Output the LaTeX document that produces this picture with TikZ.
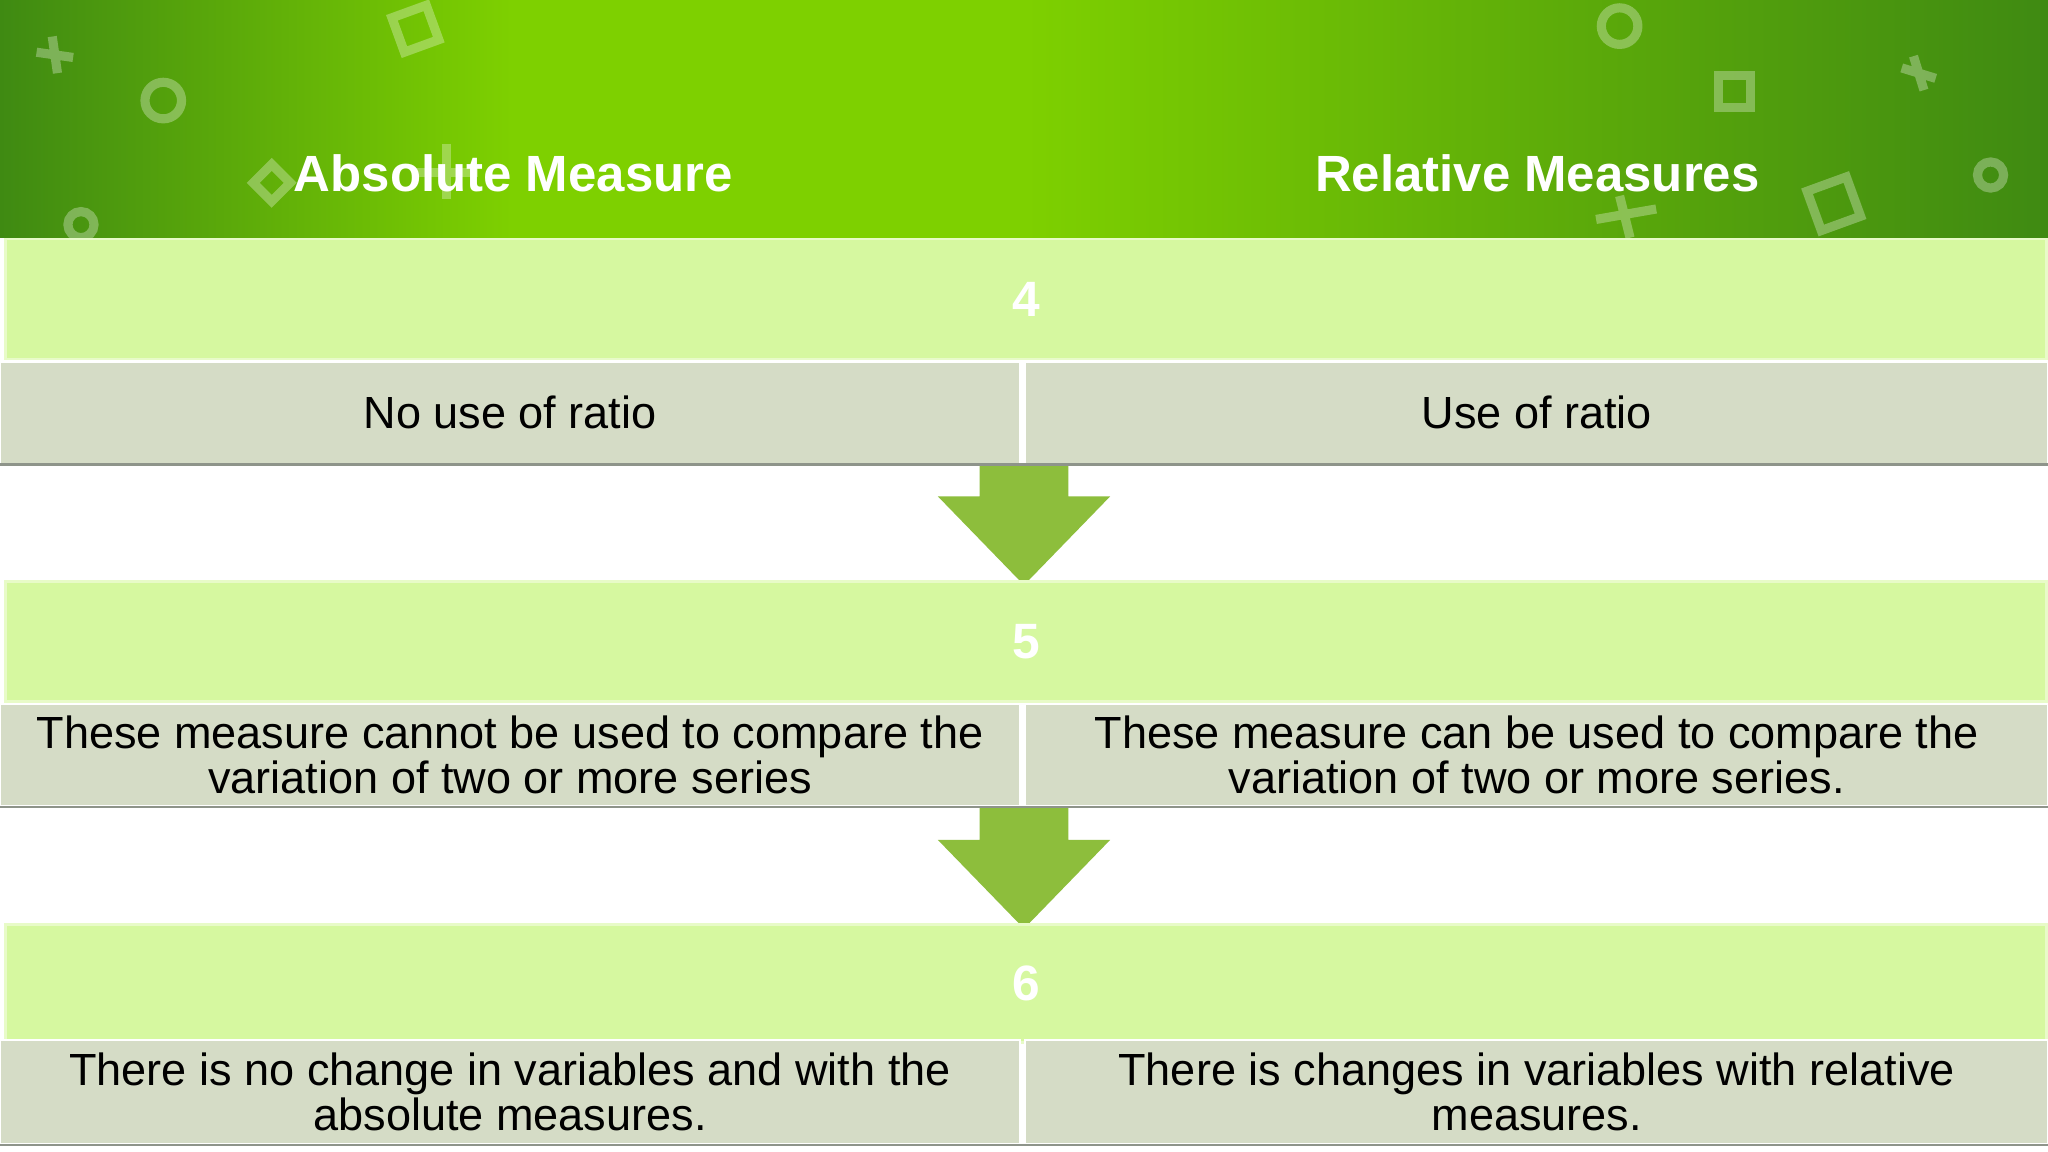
\documentclass[tikz,border=0pt]{standalone}
\usepackage{fontspec}
\setmainfont{Liberation Sans}
\definecolor{hdark}{HTML}{3F8A12}
\definecolor{hlight}{HTML}{7ED000}
\definecolor{band}{HTML}{D6F8A0}
\definecolor{bandedge}{HTML}{E8FBC8}
\definecolor{cell}{HTML}{D5DCC6}
\definecolor{cellline}{HTML}{8E948A}
\definecolor{arrowc}{HTML}{8DBE3C}
\begin{document}
\begin{tikzpicture}[x=1pt,y=-1pt,
  bandbox/.style={fill=band,draw=bandedge,line width=2pt},
  cellbox/.style={fill=cell,draw=white,line width=1.5pt},
  numtxt/.style={font=\bfseries\fontsize{38}{44}\selectfont,text=white},
  celltxt/.style={font=\fontsize{34.5}{36}\selectfont,align=center,text=black},
  headtxt/.style={font=\bfseries\fontsize{39}{44}\selectfont,text=white},
  deco/.style={draw=white,opacity=0.3,line width=7pt},
  downarrow/.style={fill=arrowc}]
\useasboundingbox (0,0) rectangle (1568,882);
\fill[white] (0,0) rectangle (1568,882);
% header
\shade[left color=hdark,right color=hlight,middle color=hlight] (0,0) rectangle (784,182);
\shade[left color=hlight,right color=hdark] (784,0) rectangle (1568,182);
% decorations
\draw[deco] (125,77) circle (14);
\draw[deco] (62,172) circle (10);
\draw[deco] (1240,20) circle (14);
\draw[deco] (1524,134) circle (10);
\draw[deco] (28,40)--(56,44) (40,28)--(44,56);
\draw[deco] (1456,52)--(1482,60) (1465,43)--(1473,69);
\draw[deco] (1222,168)--(1268,160) (1240,150)--(1248,182);
\draw[deco,rotate around={20:(318,22)}] (304,8) rectangle (332,36);
\draw[deco] (1316,58) rectangle (1340,82);
\draw[deco,rotate around={20:(1404,156)}] (1388,140) rectangle (1420,172);
\draw[deco,rotate around={45:(208,140)}] (198,130) rectangle (218,150);
\draw[deco] (318,132)--(366,132) (342,110)--(342,152);
\node[headtxt] (h1) at (393,133) {Absolute Measure};
\node[headtxt] (h2) at (1177,133) {Relative Measures};
% arrows
\fill[downarrow] (750,355) -- (818,355) -- (818,380) -- (850,380) -- (784,448) -- (718,380) -- (750,380) -- cycle;
\fill[downarrow] (750,618) -- (818,618) -- (818,643) -- (850,643) -- (784,711) -- (718,643) -- (750,643) -- cycle;
% rows
\node[bandbox,minimum width=1563pt,minimum height=92pt,numtxt] (b4) at (785.5,229) {4};
\node[cellbox,minimum width=781pt,minimum height=78pt,celltxt] (l4) at (390.5,316) {No use of ratio};
\node[cellbox,minimum width=783pt,minimum height=78pt,celltxt] (r4) at (1176.5,316) {Use of ratio};
\node[bandbox,minimum width=1563pt,minimum height=92pt,numtxt] (b5) at (785.5,491) {5};
\node[cellbox,minimum width=781pt,minimum height=78pt,celltxt] (l5) at (390.5,578) {These measure cannot be used to compare the\\[-2pt]variation of two or more series};
\node[cellbox,minimum width=783pt,minimum height=78pt,celltxt] (r5) at (1176.5,578) {These measure can be used to compare the\\[-2pt]variation of two or more series.};
\node[bandbox,minimum width=1563pt,minimum height=90pt,numtxt] (b6) at (785.5,753) {6};
\node[cellbox,minimum width=781pt,minimum height=80pt,celltxt] (l6) at (390.5,836) {There is no change in variables and with the\\[-2pt]absolute measures.};
\node[cellbox,minimum width=783pt,minimum height=80pt,celltxt] (r6) at (1176.5,836) {There is changes in variables with relative\\[-2pt]measures.};
\draw[cellline,line width=2pt] (l4.south west) -- (r4.south east);
\draw[cellline,line width=2pt] (l5.south west) -- (r5.south east);
\draw[cellline,line width=2pt] (l6.south west) -- (r6.south east);
\end{tikzpicture}
\end{document}
